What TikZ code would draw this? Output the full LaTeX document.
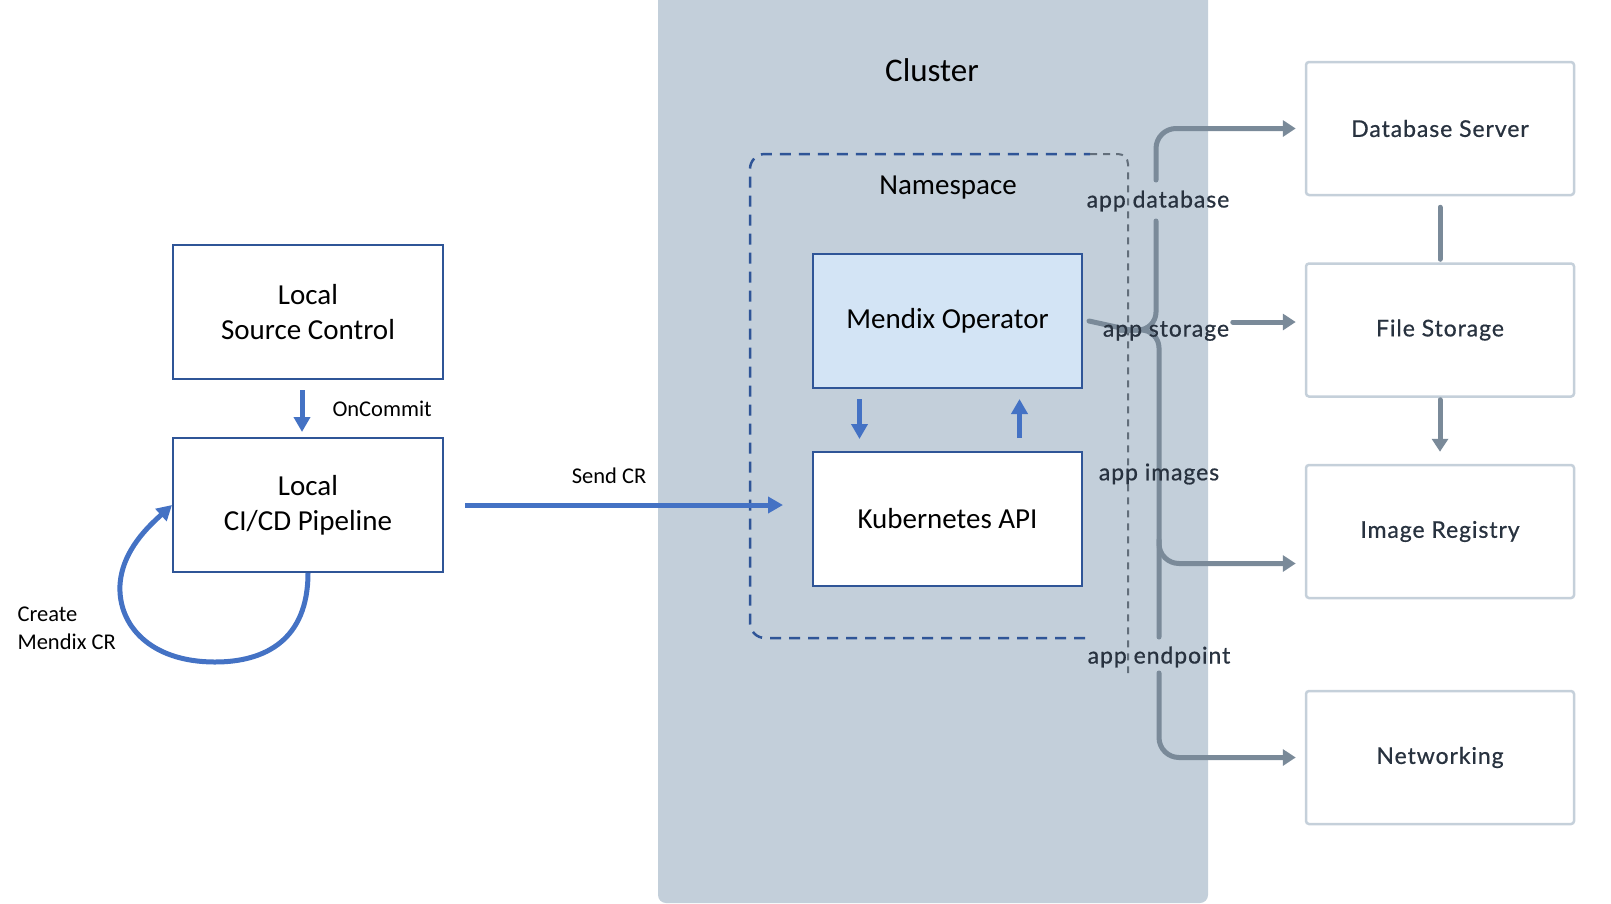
\documentclass[tikz,border=0pt]{standalone}
\usepackage{fontspec}
\setmainfont{Carlito}
\newfontfamily\proxfont[LetterSpace=4,FakeBold=0.7]{Lato}
\usetikzlibrary{arrows.meta}

\definecolor{boxblue}{HTML}{2F5597}
\definecolor{arrblue}{HTML}{4472C4}
\definecolor{opfill}{HTML}{D3E4F5}
\definecolor{clfill}{HTML}{C3CFDA}
\definecolor{extline}{HTML}{C5D0DA}
\definecolor{extarr}{HTML}{7A8A99}
\definecolor{exttext}{HTML}{28323F}

\newcommand{\boxtxt}{\fontsize{29}{35}\selectfont}
\newcommand{\lbltxt}{\fontsize{22.5}{28}\selectfont}
\newcommand{\exttxt}{\proxfont\fontsize{23}{28}\selectfont}

\tikzset{
  lbox/.style={draw=boxblue, line width=2pt, minimum width=270pt, minimum height=134pt,
    align=center, font=\boxtxt, inner sep=0pt},
  extbox/.style={draw=extline, line width=2.5pt, rounded corners=3pt, minimum width=268pt,
    minimum height=133pt, font=\exttxt, text=exttext},
  bluearr/.style={draw=arrblue, line width=5pt, -{Triangle[length=15pt,width=16pt]}},
  grayarr/.style={draw=extarr, line width=5pt, line cap=round, -{Triangle[length=13pt,width=16pt]}},
  grayline/.style={draw=extarr, line width=5pt, line cap=round},
  applbl/.style={font=\exttxt, text=exttext, inner sep=0pt},
}

\begin{document}
\begin{tikzpicture}[x=1pt,y=-1pt]
\useasboundingbox (0,0) rectangle (1611,903);

% cluster and namespace
\fill[clfill, rounded corners=8pt] (658,-10) rectangle (1208,903);
\node[font=\fontsize{33}{40}\selectfont] (cluster) at (932,70) {Cluster};
\draw[boxblue, line width=2.5pt, dash pattern=on 11pt off 8pt, rounded corners=15pt]
  (1085,638) -| (750,154) -- (1090,154);
\draw[extarr!80!black, line width=2pt, dash pattern=on 7pt off 6pt, rounded corners=10pt]
  (1090,154) -| (1128,673);
\node[font=\boxtxt] (ns) at (948,188) {Namespace};

% local side
\node[lbox] (lsc) at (308,312) {Local\\Source Control};
\node[lbox] (cicd) at (308,505) {Local\\CI/CD Pipeline};
\node[lbox, fill=opfill, minimum width=269pt] (mo) at (947.5,321) {\raisebox{-3pt}{Mendix Operator}};
\node[lbox, fill=white, minimum width=269pt] (kapi) at (947.5,519) {Kubernetes API};

\draw[bluearr, shorten <=10pt, shorten >=5pt] ([xshift=-6pt]lsc.south) -- ([xshift=-6pt]cicd.north);
\node[font=\lbltxt, anchor=west] (oncommit) at (329,409) {OnCommit};
\draw[bluearr, shorten <=21pt, shorten >=29pt] (cicd.east) -- (cicd.east -| kapi.west);
\node[font=\lbltxt] (sendcr) at (609,476) {Send CR};
\draw[bluearr] (cicd.south) .. controls (308,640) and (265,662) .. (215,662)
  .. controls (150,662) and (118,625) .. (120,585)
  .. controls (122,550) and (150,525) .. (cicd.west);
\node[font=\lbltxt, anchor=west, align=left] (create) at (14,628) {Create\\Mendix CR};
\draw[bluearr, shorten <=10pt, shorten >=12pt] ([xshift=-88pt]mo.south) -- ([xshift=-88pt]kapi.north);
\draw[bluearr, shorten <=13pt, shorten >=10pt] ([xshift=72pt]kapi.north) -- ([xshift=72pt]mo.south);

% external services
\node[extbox] (db) at (1440,128.5) {Database Server};
\node[extbox] (fs) at (1440,330) {File Storage};
\node[extbox] (ir) at (1440,531.5) {Image Registry};
\node[extbox] (nw) at (1440,757.5) {Networking};
\draw[grayline, shorten <=11pt, shorten >=3pt] (db.south) -- (fs.north);
\draw[grayarr, shorten <=2pt, shorten >=12pt] (fs.south) -- (ir.north);

% operator links
\draw[grayarr, rounded corners=20pt] (1156,180) |- ([xshift=-9pt]db.west);
\draw[grayline, rounded corners=18pt] (1156,221) |- (1120,330);
\draw[grayline] ([xshift=6pt]mo.east) -- (1130,330);
\draw[grayline, rounded corners=18pt] (1120,330) -| (1159,637);
\draw[grayarr, rounded corners=20pt] (1159,540) |- ([xshift=-9pt,yshift=-32pt]ir.west);
\draw[grayarr, rounded corners=20pt] (1159,673) |- ([xshift=-9pt]nw.west);
\draw[grayarr] ([xshift=-72pt,yshift=8pt]fs.west) -- ([xshift=-9pt,yshift=8pt]fs.west);
\node[applbl] (appdb) at (1158,201) {app database};
\node[applbl] (appfs) at (1166,331) {app storage};
\node[applbl] (appir) at (1159,474) {app images};
\node[applbl] (appnw) at (1159,657) {app endpoint};

\end{tikzpicture}
\end{document}
